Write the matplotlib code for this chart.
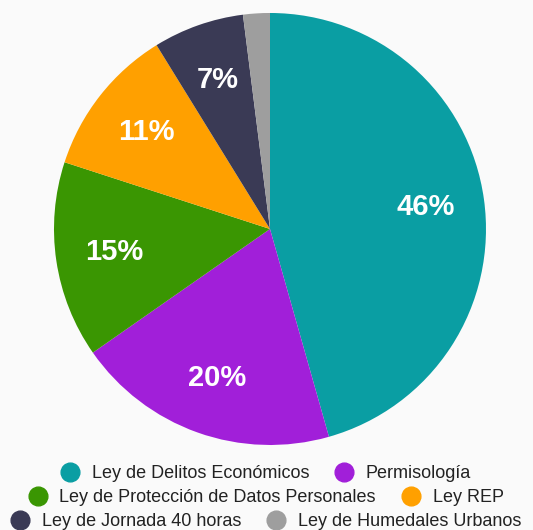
import matplotlib
matplotlib.use("Agg")
import matplotlib.pyplot as plt
from matplotlib.lines import Line2D
import numpy as np

categories = ["Ley de Delitos Económicos", "Permisología",
              "Ley de Protección de Datos Personales", "Ley REP",
              "Ley de Jornada 40 horas", "Ley de Humedales Urbanos"]
values = [45.6, 19.7, 14.7, 11.2, 6.8, 2.0]
colors = ["#0a9ea3", "#a11fd9", "#3a9602", "#ffa000", "#3a3a55", "#9e9e9e"]
pct_labels = ["46%", "20%", "15%", "11%", "7%", ""]

plt.rcParams['font.family'] = ['Liberation Sans', 'DejaVu Sans']
bg = "#fafafa"
fig = plt.figure(figsize=(5.33, 5.30), dpi=100, facecolor=bg)
ax = fig.add_axes([0.1013, 0.1604, 0.8105, 0.8151])
ax.set_facecolor(bg)

wedges, _ = ax.pie(values, colors=colors, startangle=90, counterclock=False,
                   radius=1, wedgeprops=dict(linewidth=0))
total = sum(values)
cum = 0
for v, lab in zip(values, pct_labels):
    mid = 90 - (cum + v / 2) / total * 360
    cum += v
    if lab:
        r = 0.73
        ax.text(r * np.cos(np.radians(mid)), r * np.sin(np.radians(mid)), lab,
                ha="center", va="center", color="white", fontsize=21,
                fontweight="bold")
ax.set_xlim(-1, 1)
ax.set_ylim(-1, 1)
ax.set_aspect("equal")
ax.axis("off")

rows = [(0, 1), (2, 3), (4, 5)]
row_y = [474, 498, 522]
for (i, j), y in zip(rows, row_y):
    handles = [Line2D([], [], marker="o", linestyle="none", markersize=13.5,
                      markerfacecolor=colors[k], markeredgecolor=colors[k])
               for k in (i, j)]
    fig.legend(handles, [categories[i], categories[j]], ncol=2,
               loc="center", bbox_to_anchor=(0.5, 1 - y / 530),
               frameon=False, fontsize=13, handlelength=0.9,
               handletextpad=0.75, columnspacing=1.5, borderpad=0,
               labelcolor="#222222")

fig.savefig("out.png", dpi=100, facecolor=bg)
